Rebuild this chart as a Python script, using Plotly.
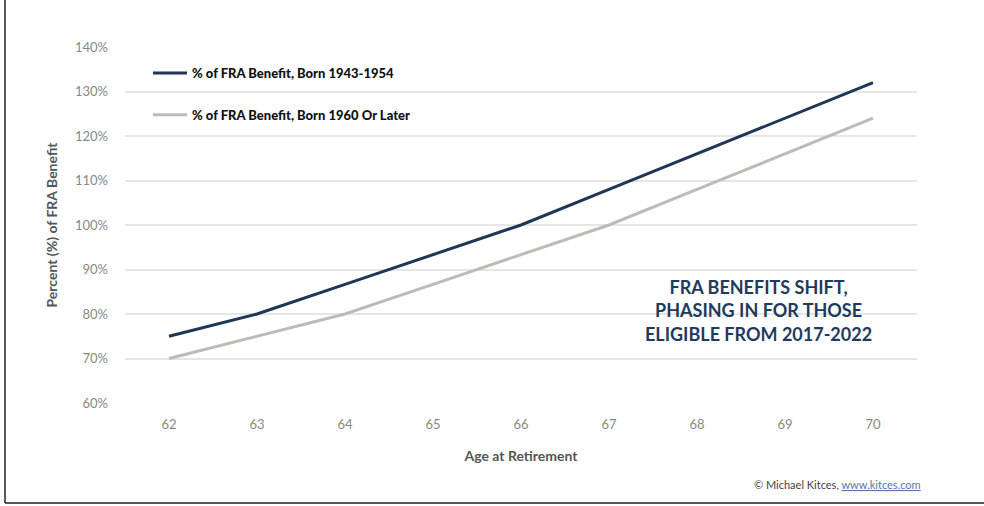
import plotly.graph_objects as go

ages = ["62", "63", "64", "65", "66", "67", "68", "69", "70"]
born_1943_1954 = [75, 80, 86.67, 93.33, 100, 108, 116, 124, 132]
born_1960_later = [70, 75, 80, 86.67, 93.33, 100, 108, 116, 124]
y_ticks = [60, 70, 80, 90, 100, 110, 120, 130, 140]
y_tick_labels = [f"{v}%" for v in y_ticks]

W, H = 984, 506
L, R, T, B = 125, 67, 47, 103
pw, ph = W - L - R, H - T - B

fig = go.Figure()
fig.add_trace(go.Scatter(x=ages, y=born_1943_1954, mode="lines", legendgroup="a",
                         name="% of FRA Benefit, Born 1943-1954",
                         line=dict(color="#1f3654", width=3)))
fig.add_trace(go.Scatter(x=ages, y=born_1960_later, mode="lines", legendgroup="b",
                         name="% of FRA Benefit, Born 1960 Or Later",
                         line=dict(color="#bcbcb6", width=3)))

fig.update_layout(
    width=W, height=H,
    margin=dict(l=L, r=R, t=T, b=B),
    paper_bgcolor="white", plot_bgcolor="white",
    font=dict(family="Lato, Open Sans, sans-serif", color="#888888", size=13),
    showlegend=True,
    legend=dict(x=(148 - L) / pw, y=1 - (58 - T) / ph, xanchor="left", yanchor="top",
                bgcolor="rgba(0,0,0,0)",
                font=dict(size=13, color="#111111", family="Lato, sans-serif", weight=900),
                tracegroupgap=22, itemwidth=34),
    xaxis=dict(type="category", range=[-0.5, 8.5], showgrid=False, zeroline=False,
               showline=False, ticks="", tickfont=dict(size=13, color="#888888"),
               ticklabelstandoff=12,
               title=dict(text="<b>Age at Retirement</b>", font=dict(size=14, color="#555555"), standoff=20)),
    yaxis=dict(range=[60, 140], tickvals=y_ticks, ticktext=y_tick_labels,
               showgrid=True, gridcolor="#e6e6e6", gridwidth=1.5, zeroline=False,
               showline=False, ticks="", tickfont=dict(size=13, color="#888888"),
               ticklabelstandoff=16,
               title=dict(text="<b>Percent (%) of FRA Benefit</b>", font=dict(size=14, color="#555555"), standoff=14)),
)

fig.add_annotation(x=(758 - L) / pw, y=1 - (310 - T) / ph, xref="paper", yref="paper",
                   text="<b>FRA BENEFITS SHIFT,<br>PHASING IN FOR THOSE<br>ELIGIBLE FROM 2017-2022</b>",
                   showarrow=False, align="center", xanchor="center", yanchor="middle",
                   font=dict(size=18, color="#1f3a5c", family="Lato, sans-serif"))

fig.add_annotation(x=(923 - L) / pw, y=1 - (484 - T) / ph, xref="paper", yref="paper",
                   text="© Michael Kitces, <span style='color:#5577aa'><u>www.kitces.com</u></span>",
                   showarrow=False, xanchor="right", yanchor="middle",
                   font=dict(size=11, color="#444444", family="Lato, sans-serif"))

# frame lines (left and bottom)
fig.add_shape(type="line", xref="paper", yref="paper",
              x0=(5 - L) / pw, x1=(5 - L) / pw, y0=1 - (0 - T) / ph + 0.01, y1=1 - (503 - T) / ph,
              line=dict(color="#222222", width=1.5))
fig.add_shape(type="line", xref="paper", yref="paper",
              x0=(5 - L) / pw, x1=(984 - L) / pw, y0=1 - (503 - T) / ph, y1=1 - (503 - T) / ph,
              line=dict(color="#222222", width=1.5))

fig.write_html("out.html")
